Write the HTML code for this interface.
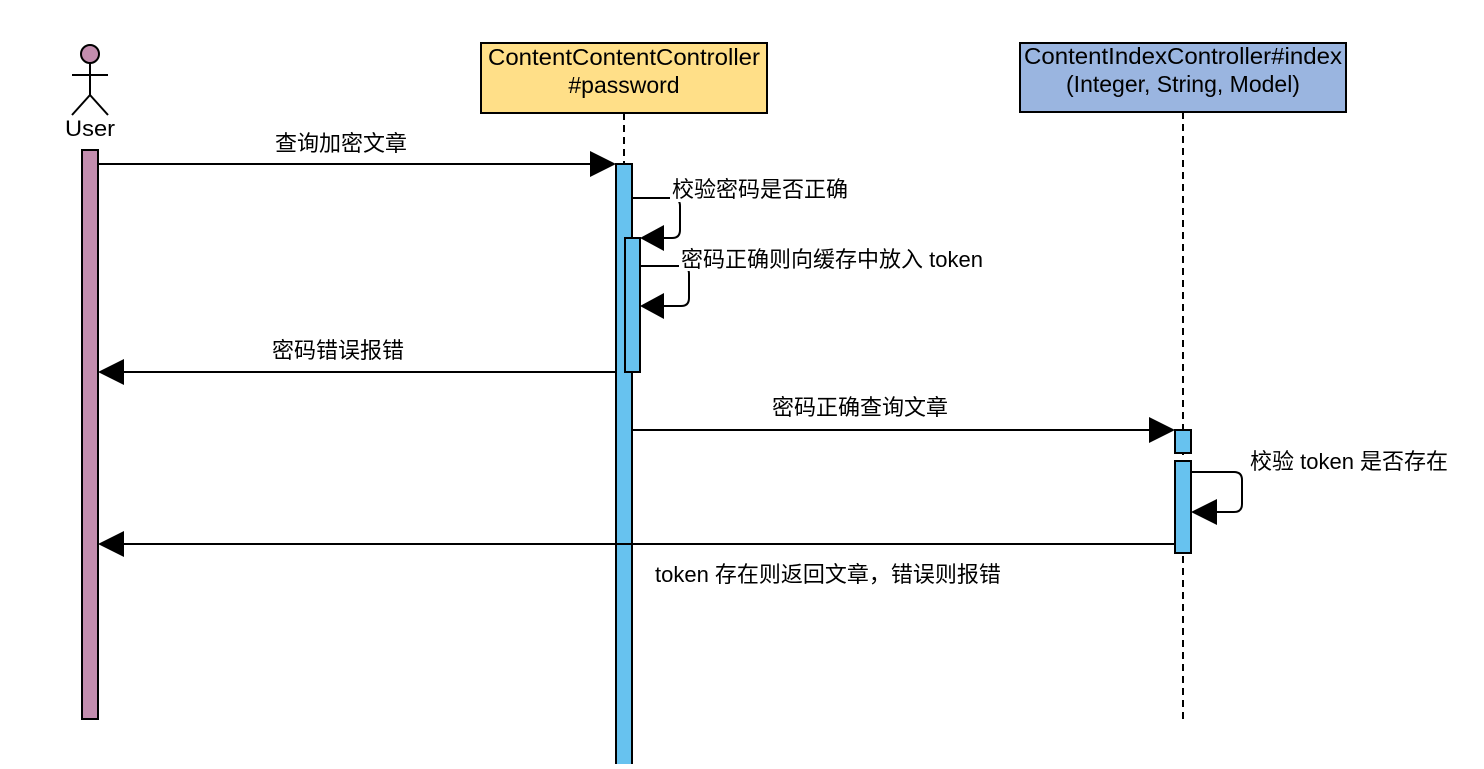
<!DOCTYPE html>
<html><head><meta charset="utf-8"><style>
body{margin:0;background:#fff;}
svg text{font-family:"Liberation Sans","Noto Sans CJK SC",sans-serif;fill:#000;}
</style></head><body>
<svg width="1484" height="764" viewBox="0 0 1484 764" xmlns="http://www.w3.org/2000/svg">
<!-- actor -->
<circle cx="90" cy="54" r="9" fill="#C38DAE" stroke="#000" stroke-width="2"/>
<line x1="90" y1="63" x2="90" y2="95" stroke="#000" stroke-width="2"/>
<line x1="72" y1="75" x2="108" y2="75" stroke="#000" stroke-width="2"/>
<line x1="90" y1="95" x2="72" y2="115" stroke="#000" stroke-width="2"/>
<line x1="90" y1="95" x2="108" y2="115" stroke="#000" stroke-width="2"/>
<text x="90" y="136" font-size="22" text-anchor="middle" textLength="50" lengthAdjust="spacingAndGlyphs">User</text>
<rect x="82" y="150" width="16" height="569" fill="#C38DAE" stroke="#000" stroke-width="2"/>
<!-- boxes -->
<rect x="481" y="43" width="286" height="70" fill="#FFDF88" stroke="#000" stroke-width="2"/>
<text x="624" y="65" font-size="23" text-anchor="middle" textLength="272" lengthAdjust="spacingAndGlyphs">ContentContentController</text>
<text x="624" y="93" font-size="23" text-anchor="middle">#password</text>
<rect x="1020" y="43" width="326" height="69" fill="#9AB5E0" stroke="#000" stroke-width="2"/>
<text x="1183" y="64" font-size="23" text-anchor="middle" textLength="318" lengthAdjust="spacingAndGlyphs">ContentIndexController#index</text>
<text x="1183" y="92" font-size="23" text-anchor="middle">(Integer, String, Model)</text>
<!-- lifelines -->
<line x1="624" y1="113" x2="624" y2="164" stroke="#000" stroke-width="2" stroke-dasharray="7,5"/>
<line x1="1183" y1="112" x2="1183" y2="720" stroke="#000" stroke-width="2" stroke-dasharray="7,5"/>
<!-- bars -->
<rect x="616" y="164" width="16" height="610" fill="#67C2EF" stroke="#000" stroke-width="2"/>
<rect x="625" y="238" width="15" height="134" fill="#67C2EF" stroke="#000" stroke-width="2"/>
<rect x="1175" y="430" width="16" height="23" fill="#67C2EF" stroke="#000" stroke-width="2"/>
<rect x="1175" y="461" width="16" height="92" fill="#67C2EF" stroke="#000" stroke-width="2"/>
<!-- msg 1 -->
<line x1="98" y1="164" x2="592" y2="164" stroke="#000" stroke-width="2"/>
<polygon points="616,164 590,151 590,177" fill="#000"/>
<text x="341" y="151" font-size="22" text-anchor="middle">查询加密文章</text>
<!-- loop 1 -->
<path d="M632,198 H672 Q680,198 680,206 V230 Q680,238 672,238 H664" fill="none" stroke="#000" stroke-width="2"/>
<polygon points="640,238 664,225 664,251" fill="#000"/>
<rect x="670" y="178" width="180" height="24" fill="#fff"/>
<text x="672" y="197" font-size="22">校验密码是否正确</text>
<!-- loop 2 -->
<path d="M640,266 H681 Q689,266 689,274 V298 Q689,306 681,306 H664" fill="none" stroke="#000" stroke-width="2"/>
<polygon points="640,306 664,293 664,319" fill="#000"/>
<rect x="679" y="247" width="310" height="24" fill="#fff"/>
<text x="681" y="267" font-size="22">密码正确则向缓存中放入 token</text>
<!-- return 1 -->
<line x1="122" y1="372" x2="616" y2="372" stroke="#000" stroke-width="2"/>
<polygon points="98,372 124,359 124,385" fill="#000"/>
<text x="338" y="358" font-size="22" text-anchor="middle">密码错误报错</text>
<!-- msg 2 -->
<line x1="632" y1="430" x2="1151" y2="430" stroke="#000" stroke-width="2"/>
<polygon points="1175,430 1149,417 1149,443" fill="#000"/>
<text x="860" y="415" font-size="22" text-anchor="middle">密码正确查询文章</text>
<!-- loop 3 -->
<path d="M1191,472 H1234 Q1242,472 1242,480 V504 Q1242,512 1234,512 H1215" fill="none" stroke="#000" stroke-width="2"/>
<polygon points="1191,512 1217,499 1217,525" fill="#000"/>
<text x="1250" y="469" font-size="22">校验 token 是否存在</text>
<!-- return 2 -->
<line x1="122" y1="544" x2="1175" y2="544" stroke="#000" stroke-width="2"/>
<polygon points="98,544 124,531 124,557" fill="#000"/>
<text x="655" y="582" font-size="22">token 存在则返回文章，错误则报错</text>
</svg>
</body></html>
